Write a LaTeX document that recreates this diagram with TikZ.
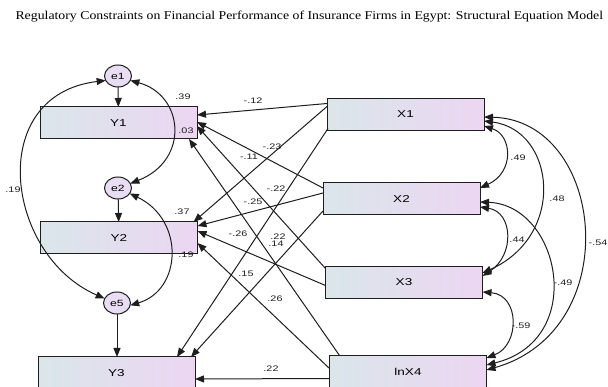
\documentclass[tikz,border=0pt]{standalone}
\usepackage{fontspec}
\setmainfont{Liberation Serif}
\newfontfamily\titlefont[FakeStretch=1.15]{Liberation Serif}
\newfontfamily\semfont[FakeStretch=1.35]{Liberation Sans}
\usetikzlibrary{shapes.geometric,arrows.meta,calc}

\definecolor{boxleft}{RGB}{218,230,234}
\definecolor{boxright}{RGB}{236,214,242}
\definecolor{errfill}{RGB}{233,221,244}
\definecolor{inkc}{RGB}{30,30,30}

\tikzset{
  obs/.style={draw=inkc, line width=1pt, left color=boxleft, right color=boxright,
    minimum width=157pt, minimum height=32pt, inner sep=0pt, outer sep=0pt,
    font=\semfont\fontsize{10}{10}\selectfont},
  err/.style={ellipse, draw=inkc, line width=1pt, fill=errfill, minimum width=27pt,
    minimum height=22pt, inner sep=0pt, outer sep=0pt, font=\semfont\fontsize{9}{9}\selectfont},
  est/.style={font=\semfont\fontsize{8}{8}\selectfont, inner sep=0pt, text=inkc},
  reg/.style={-{Triangle[length=9pt,width=7pt]}, line width=1pt, draw=inkc},
  cov/.style={{Triangle[length=9pt,width=7pt]}-{Triangle[length=9pt,width=7pt]}, line width=1pt, draw=inkc}
}

\begin{document}
\begin{tikzpicture}[x=1pt,y=-1pt]
  \clip (0,0) rectangle (608,387);
  \node[anchor=west, font=\titlefont\fontsize{12}{12}\selectfont] (title) at (12,17)
    {Regulatory Constraints on Financial Performance of Insurance Firms in Egypt: Structural Equation Model};

  % observed variables
  \node[obs] (Y1) at (118.5,123) {Y1};
  \node[obs] (Y2) at (119,238) {Y2};
  \node[obs] (Y3) at (116.5,373) {Y3};
  \node[obs] (X1) at (405.5,114.5) {X1};
  \node[obs] (X2) at (401.5,199) {X2};
  \node[obs] (X3) at (404,282.5) {X3};
  \node[obs] (lnX4) at (408,371.5) {lnX4};

  % error terms
  \node[err] (e1) at (118,76) {e1};
  \node[err] (e2) at (118,188) {e2};
  \node[err] (e5) at (117,303) {e5};
  \draw[reg] (e1) -- (Y1);
  \draw[reg] (e2) -- (Y2);
  \draw[reg] (e5.south) -- (e5.south |- Y3.north);

  % regression paths
  \draw[reg] ($(X1.north west)+(0,5)$) -- ($(Y1.north east)+(0,8)$);
  \draw[reg] ($(X1.north west)+(0,8)$) -- ($(Y2.north east)+(-4,0)$);
  \draw[reg] ($(X1.south west)+(1,-2)$) -- ($(Y3.north east)+(-18,0)$);
  \draw[reg] ($(X2.north west)+(0,5)$) -- ($(Y1.north east)+(0,15)$);
  \draw[reg] ($(X2.west)+(0,-6)$) -- ($(Y2.north east)+(0,4)$);
  \draw[reg] ($(X2.south west)+(0,-4)$) -- ($(Y3.north east)+(-4,0)$);
  \draw[reg] ($(X3.north west)+(0,2)$) -- ($(Y1.north east)+(0,19)$);
  \draw[reg] ($(X3.west)+(0,3)$) -- ($(Y2.north east)+(0,9)$);
  \draw[reg] ($(lnX4.north west)+(10,0)$) -- ($(Y1.south east)+(-8,0)$);
  \draw[reg] ($(lnX4.west)+(0,-3)$) -- ($(Y2.east)+(0,5)$);
  \draw[reg] ($(lnX4.west)+(0,7)$) -- ($(Y3.east)+(0,6)$);

  % error covariances
  \draw[cov] (e1.-20) .. controls (184,95) and (190,160) .. (e2.20);
  \draw[cov] (e2.-25) .. controls (185,220) and (182,290) .. (e5.-10);
  \draw[cov] (e1.200) .. controls (-15,95) and (5,255) .. (e5.160);

  % exogenous covariances
  \draw[cov] ($(X1.east)+(0,11.5)$) .. controls (512,135) and (515,172) .. ($(X2.east)+(0,-11)$);
  \draw[cov] ($(X1.east)+(0,6.5)$) .. controls (555,130) and (567,235) .. ($(X3.east)+(0,-9.5)$);
  \draw[cov] ($(X1.east)+(0,2.5)$) .. controls (605,120) and (627,330) .. ($(lnX4.east)+(0,-1.5)$);
  \draw[cov] ($(X2.east)+(0,8)$) .. controls (513,212) and (515,255) .. ($(X3.east)+(0,-6.5)$);
  \draw[cov] ($(X2.east)+(0,3)$) .. controls (560,205) and (588,340) .. ($(lnX4.east)+(0,-6.5)$);
  \draw[cov] ($(X3.east)+(0,9.5)$) .. controls (520,295) and (520,345) .. ($(lnX4.east)+(0,-13.5)$);

  % estimates
  \node[est] (r1) at (183,97) {.39};
  \node[est] (r1b) at (186,131) {.03};
  \node[est] (r2) at (182,212) {.37};
  \node[est] (r2b) at (186,255) {.19};
  \node[est] (c15) at (13,190) {.19};
  \node[est] (b11) at (253,101) {-.12};
  \node[est] (b21) at (272,147) {-.23};
  \node[est] (b12) at (249,157) {-.11};
  \node[est] (b31) at (276,189) {-.22};
  \node[est] (b22) at (253,202) {-.25};
  \node[est] (b32) at (238,234) {-.26};
  \node[est] (b13) at (278,237) {.22};
  \node[est] (b41) at (276,244) {.14};
  \node[est] (b23) at (246,274) {.15};
  \node[est] (b42) at (275,299) {.26};
  \node[est] (b43) at (271,369) {.22};
  \node[est] (c12) at (518,158) {.49};
  \node[est] (c13) at (557,199) {.48};
  \node[est] (c23) at (517,240) {.44};
  \node[est] (c24) at (563,283) {-.49};
  \node[est] (c34) at (521,326) {-.59};
  \node[est] (c14) at (598,243) {-.54};
\end{tikzpicture}
\end{document}
